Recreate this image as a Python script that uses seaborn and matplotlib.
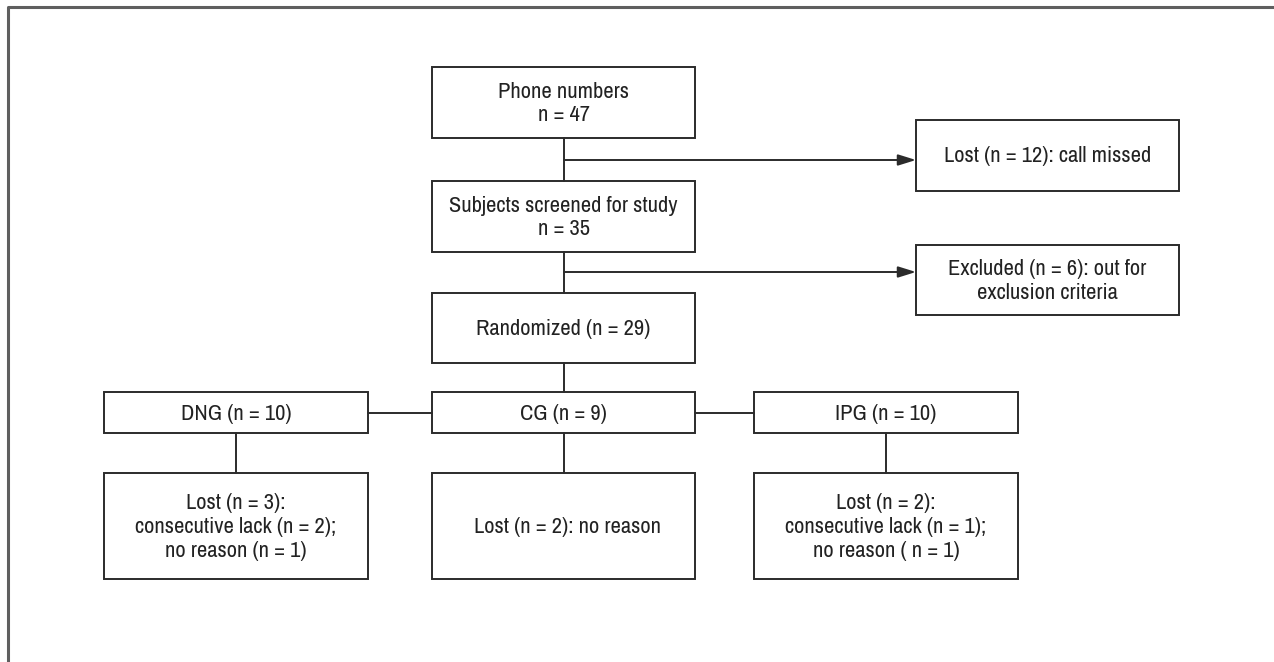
import matplotlib
matplotlib.use("Agg")
import matplotlib.pyplot as plt
from matplotlib.patches import Rectangle
from matplotlib import font_manager
import seaborn as sns
import pandas as pd

# ---- content ----
main_labels = ["Phone numbers\nn = 47",
               "Subjects screened for study\nn = 35",
               "Randomized (n = 29)"]
side_labels = ["Lost (n = 12): call missed",
               "Excluded (n = 6): out for\nexclusion criteria"]
group_labels = ["DNG (n = 10)", "CG (n = 9)", "IPG (n = 10)"]
outcome_labels = ["Lost (n = 3):\nconsecutive lack (n = 2);\nno reason (n = 1)",
                  "Lost (n = 2): no reason",
                  "Lost (n = 2):\nconsecutive lack (n = 1);\nno reason ( n = 1)"]

# ---- layout (pixels) ----
W, H = 1274, 662
main_x = (432, 695)
main_y = [(67, 138), (181, 252), (293, 363)]
side_x = (916, 1179)
side_y = [(120, 191), (245, 315)]
branch_y = [160, 272]
group_x = [(104, 368), (432, 695), (754, 1018)]
group_y = (392, 433)
out_y = (473, 579)

sns.set_theme(style="white")
# prefer a condensed sans if one is installed
cond = None
for f in font_manager.fontManager.ttflist:
    n = f.name
    if ("Condensed" in n or "Narrow" in n) and "Mono" not in n:
        cond = n
        break
fam = [cond] if cond else ["Liberation Sans"]
plt.rcParams["font.family"] = fam + ["DejaVu Sans"]
FS = 16.2 if cond else 14

fig = plt.figure(figsize=(W / 100, H / 100), dpi=100)
ax = fig.add_axes([0, 0, 1, 1])
ax.set_xlim(0, W)
ax.set_ylim(H, 0)
ax.axis("off")

BOX = "#2b2b2b"
TXT = "#222222"


def box(x0, x1, y0, y1, text, dx=0):
    ax.add_patch(Rectangle((x0, y0), x1 - x0, y1 - y0, fill=False,
                           edgecolor=BOX, linewidth=1.4))
    ax.text((x0 + x1) / 2 + dx, (y0 + y1) / 2 + 1, text, ha="center", va="center",
            fontsize=FS, color=TXT, linespacing=1.22)


def seg(xs, ys, color=BOX, lw=1.4):
    df = pd.DataFrame({"x": xs, "y": ys, "g": 0})
    sns.lineplot(data=df, x="x", y="y", units="g", estimator=None, sort=False,
                 color=color, linewidth=lw, ax=ax, legend=False)


# outer frame
seg([8, 8, W + 5], [H + 5, 7, 7], color="#5f5f5f", lw=2.2)

# main column
for (y0, y1), t in zip(main_y, main_labels):
    box(main_x[0], main_x[1], y0, y1, t)
cx = (main_x[0] + main_x[1]) / 2
for i in range(len(main_y) - 1):
    seg([cx, cx], [main_y[i][1], main_y[i + 1][0]])

# side branches with arrows
for (y0, y1), t, by in zip(side_y, side_labels, branch_y):
    box(side_x[0], side_x[1], y0, y1, t)
    seg([cx, side_x[0] - 12], [by, by])
    ax.annotate("", xy=(side_x[0], by), xytext=(side_x[0] - 14, by),
                arrowprops=dict(arrowstyle="-|>,head_length=0.9,head_width=0.28",
                                color=BOX, lw=1.4, shrinkA=0, shrinkB=0))

# randomized -> CG
seg([cx, cx], [main_y[2][1], group_y[0]])

# groups and outcomes
gmid = (group_y[0] + group_y[1]) / 2
for i, ((x0, x1), g, o) in enumerate(zip(group_x, group_labels, outcome_labels)):
    box(x0, x1, group_y[0], group_y[1], g)
    box(x0, x1, out_y[0], out_y[1], o, dx=4 if i == 1 else 0)
    gx = (x0 + x1) / 2
    seg([gx, gx], [group_y[1], out_y[0]])
seg([group_x[0][1], group_x[1][0]], [gmid, gmid])
seg([group_x[1][1], group_x[2][0]], [gmid, gmid])

fig.savefig("out.png", dpi=100)
